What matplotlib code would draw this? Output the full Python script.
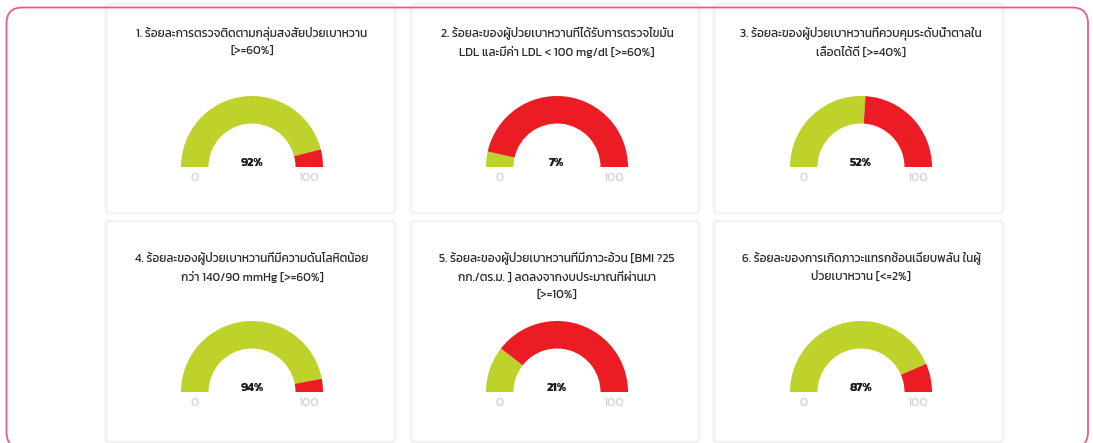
import matplotlib
matplotlib.use("Agg")
import matplotlib.pyplot as plt
from matplotlib.patches import FancyBboxPatch

# ---- data ----
titles = [
    "1. ร้อยละการตรวจติดตามกลุ่มสงสัยป่วยเบาหวาน\n[>=60%]",
    "2. ร้อยละของผู้ป่วยเบาหวานที่ได้รับการตรวจไขมัน\nLDL และมีค่า LDL < 100 mg/dl [>=60%]",
    "3. ร้อยละของผู้ป่วยเบาหวานที่ควบคุมระดับน้ำตาลใน\nเลือดได้ดี [>=40%]",
    "4. ร้อยละของผู้ป่วยเบาหวานที่มีความดันโลหิตน้อย\nกว่า 140/90 mmHg [>=60%]",
    "5. ร้อยละของผู้ป่วยเบาหวานที่มีภาวะอ้วน [BMI ?25\nกก./ตร.ม. ] ลดลงจากงบประมาณที่ผ่านมา\n[>=10%]",
    "6. ร้อยละของการเกิดภาวะแทรกซ้อนเฉียบพลัน ในผู้\nป่วยเบาหวาน [<=2%]",
]
values = [92, 7, 52, 94, 21, 87]
gauge_min = "0"
gauge_max = "100"

GREEN = "#BFD22B"
RED = "#EB1C24"
FONT = ["Kanit", "DejaVu Sans"]

W, H = 1093, 443
fig = plt.figure(figsize=(W / 100, H / 100), dpi=100)
fig.patch.set_facecolor("white")

bg = fig.add_axes([0, 0, 1, 1])
bg.set_xlim(0, W)
bg.set_ylim(0, H)
bg.axis("off")


def Y(y):  # image-row -> axes y (upwards)
    return H - y


card_x = [(106, 395), (411, 699), (714, 1003)]
card_y = [(4, 213), (221, 442)]
gauge_cx = [252, 557, 861]
gauge_base = [167, 392]
title_line1 = [33, 258]
line_step = 18.7
R = 71.0
R_in = 43.5

for r in range(2):
    for c in range(3):
        x0, x1 = card_x[c]
        y0, y1 = card_y[r]
        bg.add_patch(FancyBboxPatch((x0, Y(y1)), x1 - x0, y1 - y0,
                                    boxstyle="round,pad=0,rounding_size=3",
                                    facecolor="white", edgecolor="#F3F3F3", linewidth=2.0,
                                    clip_on=False, zorder=1))

# outer pink rounded frame (on top of the cards)
bg.add_patch(FancyBboxPatch((6.5, Y(448)), 1081.5, 440.5,
                            boxstyle="round,pad=0,rounding_size=16",
                            facecolor="none", edgecolor="#F0588A", linewidth=1.3, zorder=5))

for i, (t, v) in enumerate(zip(titles, values)):
    r, c = divmod(i, 3)
    cx = gauge_cx[c]
    base = gauge_base[r]
    for k, line in enumerate(t.split("\n")):
        bg.text(cx, Y(title_line1[r] + k * line_step), line, ha="center", va="center",
                fontsize=8.6, color="#2a2a2a", family=FONT, zorder=3)

    ax = fig.add_axes([(cx - R) / W, 1 - (base + R) / H, 2 * R / W, 2 * R / H])
    ax.pie([v, 100 - v, 100], startangle=180, counterclock=False,
           colors=[GREEN, RED, "none"], radius=1.0,
           wedgeprops=dict(width=1 - R_in / R, linewidth=0))
    ax.set_xlim(-1, 1)
    ax.set_ylim(-1, 1)
    ax.set_aspect("auto")
    ax.axis("off")
    ax.text(0, 0.06, f"{v}%", ha="center", va="center", fontsize=8.8,
            fontweight="bold", color="#1a1a1a", family=FONT)
    mid = (1 + R_in / R) / 2
    ax.text(-mid, -0.15, gauge_min, ha="center", va="center", fontsize=9.2,
            color="#D3D3D3", family=FONT, clip_on=False)
    ax.text(mid, -0.15, gauge_max, ha="center", va="center", fontsize=9.2,
            color="#D3D3D3", family=FONT, clip_on=False)

fig.savefig("out.png", dpi=100, facecolor="white")
